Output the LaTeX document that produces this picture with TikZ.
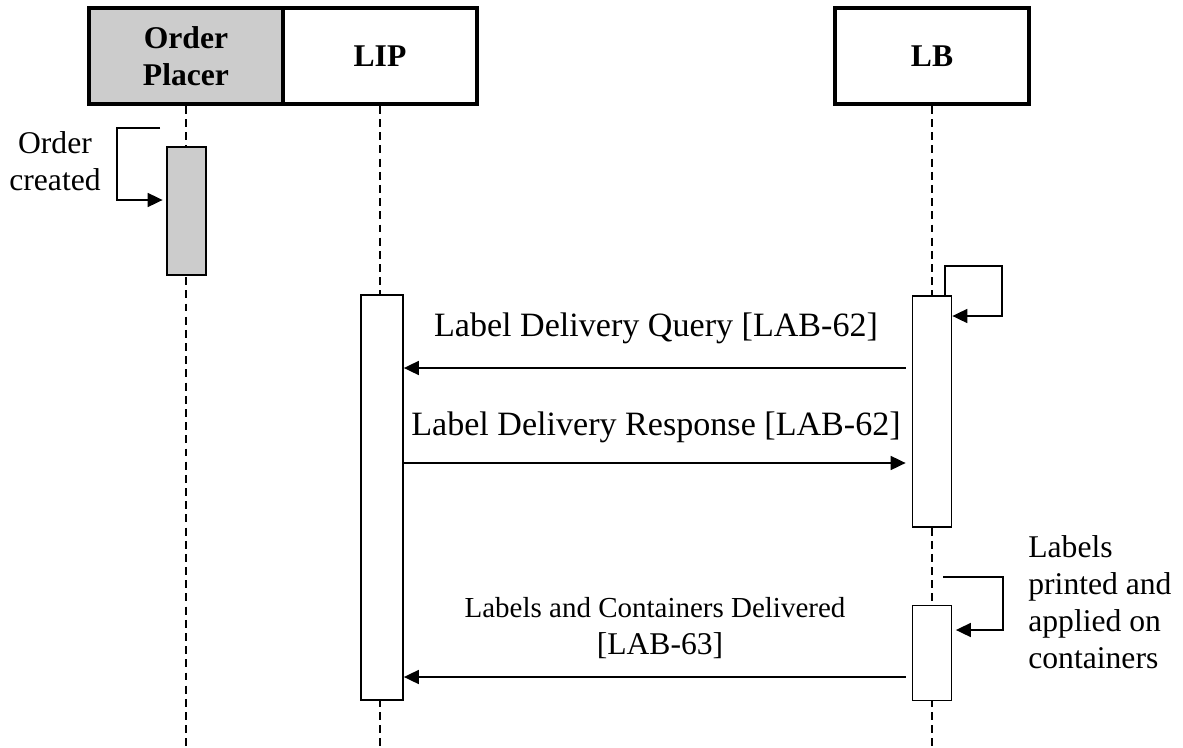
\documentclass[tikz,border=0pt]{standalone}
\usepackage{fontspec}
\setmainfont{Liberation Serif}
\usetikzlibrary{arrows.meta}
\begin{document}
\begin{tikzpicture}[x=0.02cm,y=-0.02cm]

% definitions
\tikzstyle{head} = [rectangle, minimum width=3.88cm, minimum height=1.92cm, text width=3.4cm, text centered, draw=black, line width=2.2pt, font=\fontsize{18}{21}\selectfont\bfseries]
\tikzstyle{bar} = [rectangle, minimum width=0.78cm, draw=black, line width=1pt, fill=white]
\tikzstyle{life} = [dash pattern=on 4.5pt off 3pt, line width=1pt]
\tikzstyle{arrow} = [-{Triangle[length=0.3cm,width=0.28cm]}, line width=1pt]
\tikzstyle{msg} = [font=\fontsize{19.4}{22}\selectfont]
\tikzstyle{note} = [font=\fontsize{18}{21}\selectfont, inner sep=0pt]

\useasboundingbox (0,0) rectangle (1183,747);

% the graph
\node (op) [head, fill=gray!40] at (186,56) {Order\\Placer};
\node (lip) [head] at (380,56) {LIP};
\node (lb) [head] at (932,56) {LB};

\coordinate (bottom) at (0,747);
\draw [life] (op.south) -- (op.south |- bottom);
\draw [life] (lip.south) -- (lip.south |- bottom);
\draw [life] (lb.south) -- (lb.south |- bottom);

\node (opA) [bar, fill=gray!40, minimum height=2.56cm] at (186.5,211) {};
\node (lipA) [bar, minimum width=0.84cm, minimum height=8.1cm] at (382,497.5) {};
\node (lbA) [bar, minimum height=4.62cm] at (932,411.5) {};
\node (lbB) [bar, minimum height=1.9cm] at (932,653) {};

% self calls
\coordinate (ocT) at (160,128);
\coordinate (ocB) at (117,200);
\draw [arrow, shorten >=2pt] (ocT) -| (ocB) -- (opA.west |- ocB);

\coordinate (s1) at (1002,266);
\coordinate (r1) at (0,316);
\draw [arrow] ([xshift=0.26cm]lbA.north) |- (s1) |- (lbA.east |- r1);

\coordinate (s2a) at (943,577);
\coordinate (s2b) at (1003,630);
\draw [arrow, shorten >=2pt] (s2a) -| (s2b) -- (lbB.east |- s2b);

% messages
\coordinate (m1) at (0,368);
\coordinate (m2) at (0,463);
\coordinate (m3) at (0,677);
\draw [arrow, shorten <=0.12cm] (lbA.west |- m1) -- (lipA.east |- m1);
\draw [arrow, shorten >=0.12cm] (lipA.east |- m2) -- (lbA.west |- m2);
\draw [arrow, shorten <=0.12cm] (lbB.west |- m3) -- (lipA.east |- m3);

\node (q1) [msg] at (656,328) {Label Delivery Query [LAB-62]};
\node (q2) [msg] at (656,427) {Label Delivery Response [LAB-62]};
\node (q3) [font=\fontsize{16.5}{20}\selectfont] at (655,608) {Labels and Containers Delivered};
\node (q3b) [font=\fontsize{18}{21}\selectfont] at (660,646) {[LAB-63]};

\node (ocn) [note, align=center] at (55,161) {Order\\created};
\node (lpn) [note, align=left, anchor=west] at (1028,602) {Labels\\printed and\\applied on\\containers};

\end{tikzpicture}
\end{document}
